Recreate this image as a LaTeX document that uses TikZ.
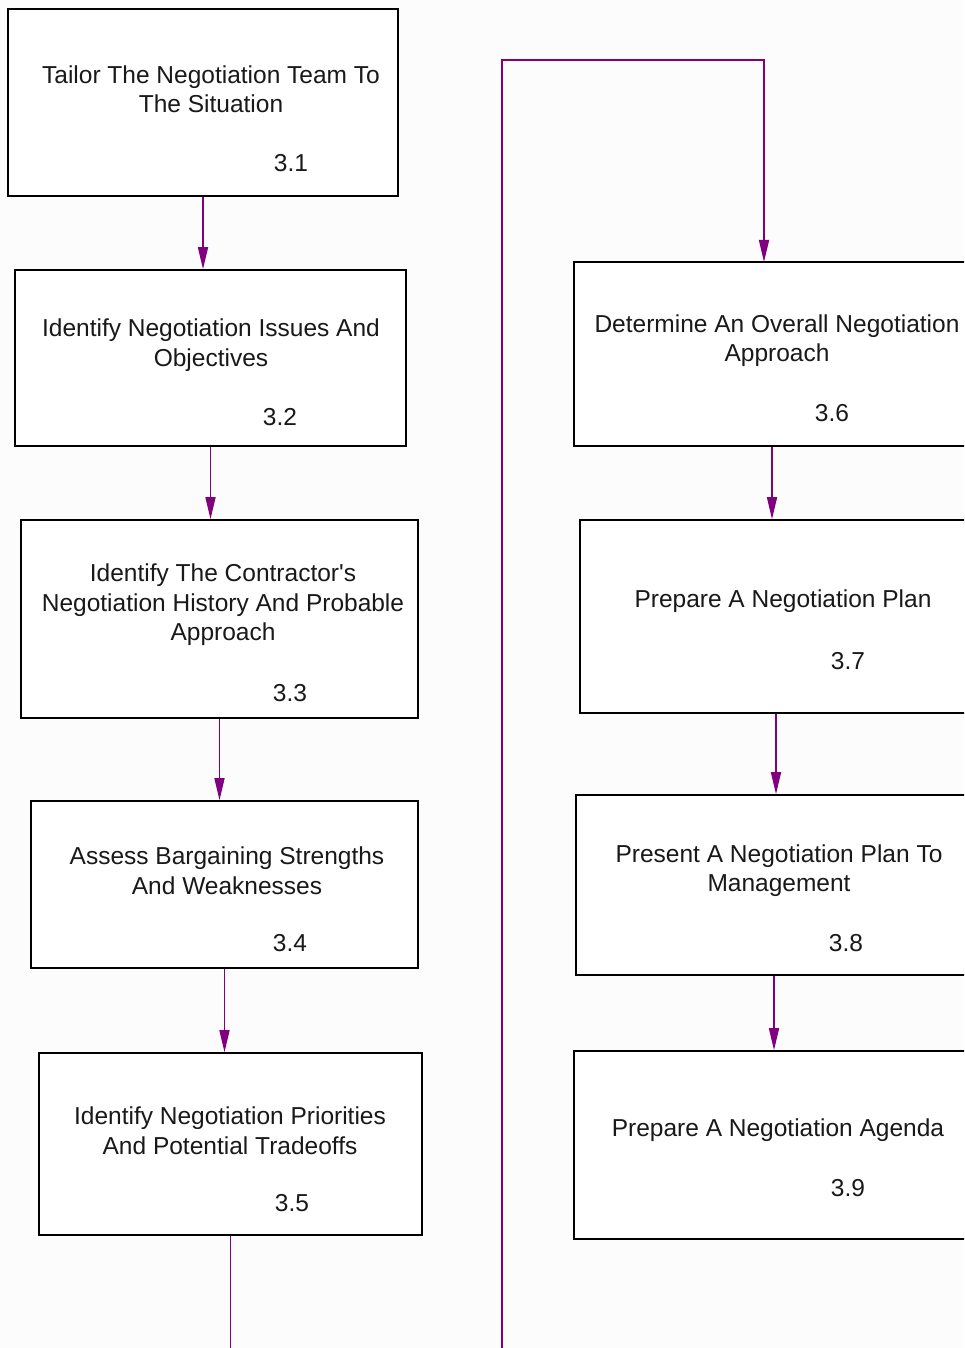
\documentclass[tikz,border=0pt]{standalone}
\usepackage{fontspec}
\setmainfont{Liberation Sans}
\usetikzlibrary{arrows.meta}
\definecolor{bg}{RGB}{252,252,252}
\definecolor{conn}{RGB}{128,0,128}
\tikzset{
  procbox/.style={draw=black,line width=1.6pt,fill=white,rectangle,inner sep=0pt},
  lbl/.style={font=\fontsize{24.5}{29.5}\selectfont,align=center,inner sep=0pt,text=black!90},
  num/.style={font=\fontsize{24.5}{29.5}\selectfont,inner sep=0pt,text=black!90},
  flow/.style={draw=conn,line width=1.6pt,-{Triangle[width=10pt,length=22pt]}},
  flowplain/.style={draw=conn,line width=1.6pt}
}
\begin{document}
\begin{tikzpicture}[x=1pt,y=-1pt]
\clip (0,0) rectangle (964,1348);
\fill[bg] (0,0) rectangle (964,1348);
\useasboundingbox (0,0) rectangle (964,1348);
% left column boxes
\node[procbox,minimum width=390pt,minimum height=187pt] (b1) at (203,102.5) {};
\node[procbox,minimum width=391pt,minimum height=176pt] (b2) at (210.5,358) {};
\node[procbox,minimum width=397pt,minimum height=198pt] (b3) at (219.5,619) {};
\node[procbox,minimum width=387pt,minimum height=167pt] (b4) at (224.5,884.5) {};
\node[procbox,minimum width=383pt,minimum height=182pt] (b5) at (230.5,1144) {};
% right column boxes
\node[procbox,minimum width=396pt,minimum height=184pt] (b6) at (772,354) {};
\node[procbox,minimum width=392pt,minimum height=193pt] (b7) at (776,616.5) {};
\node[procbox,minimum width=396pt,minimum height=180pt] (b8) at (774,885) {};
\node[procbox,minimum width=400pt,minimum height=188pt] (b9) at (774,1145) {};
% texts
\node[lbl] (t1) at (211,89) {Tailor The Negotiation Team To\\The Situation};
\node[num] (n1) at (291,163) {3.1};
\node[lbl] (t2) at (211,345) {Identify Negotiation Issues And\\Objectives};
\node[num] (n2) at (280,417) {3.2};
\node[lbl] (t3) at (223,605) {Identify The Contractor\textquotesingle s\\Negotiation History And Probable\\Approach};
\node[num] (n3) at (290,693) {3.3};
\node[lbl] (t4) at (227,870.5) {Assess Bargaining Strengths\\And Weaknesses};
\node[num] (n4) at (290,943) {3.4};
\node[lbl] (t5) at (230,1130.5) {Identify Negotiation Priorities\\And Potential Tradeoffs};
\node[num] (n5) at (292,1203) {3.5};
\node[lbl] (t6) at (777,340.5) {Determine An Overall Negotiation\\Approach};
\node[num] (n6) at (832,413) {3.6};
\node[lbl] (t7) at (783,601) {Prepare A Negotiation Plan};
\node[num] (n7) at (848,661) {3.7};
\node[lbl] (t8) at (779,870.5) {Present A Negotiation Plan To\\Management};
\node[num] (n8) at (846,943) {3.8};
\node[lbl] (t9) at (778,1130) {Prepare A Negotiation Agenda};
\node[num] (n9) at (848,1188) {3.9};
% connectors
\draw[flow] (b1.south) -- (b1.south |- b2.north);
\draw[flow] (b2.south) -- (b2.south |- b3.north);
\draw[flow] (b3.south) -- (b3.south |- b4.north);
\draw[flow] (b4.south) -- (b4.south |- b5.north);
\coordinate (off5) at (230.5,1360);
\draw[flowplain] (b5.south) -- (off5);
\coordinate (offin) at (502,1360);
\coordinate (topbend) at (502,60);
\coordinate (in6) at (764,262);
\draw[flow] (offin) -- (topbend) -| (in6);
\draw[flow] (b6.south) -- (b6.south |- b7.north);
\draw[flow] (b7.south) -- (b7.south |- b8.north);
\draw[flow] (b8.south) -- (b8.south |- b9.north);
\end{tikzpicture}
\end{document}
